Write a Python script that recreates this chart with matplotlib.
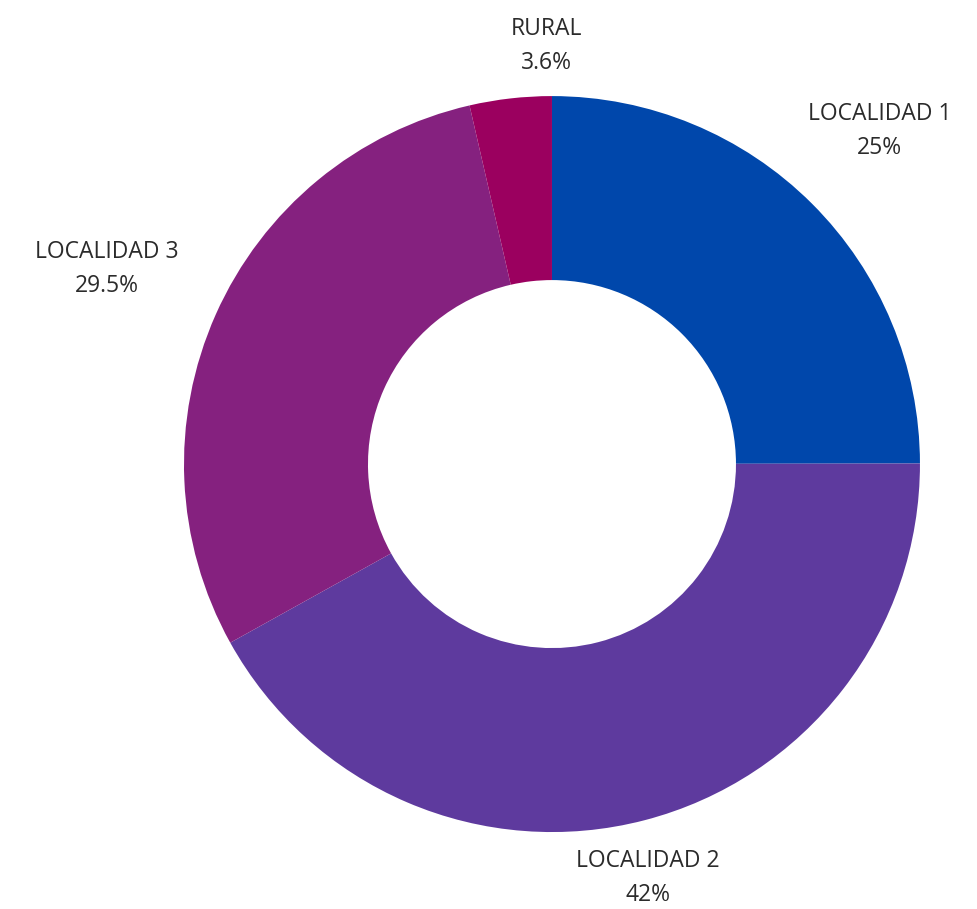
import numpy as np
import matplotlib
matplotlib.use("Agg")
import matplotlib.pyplot as plt

# data
labels = ["LOCALIDAD 1", "LOCALIDAD 2", "LOCALIDAD 3", "RURAL"]
pct_text = ["25%", "42%", "29.5%", "3.6%"]
values = [25, 42, 29.5, 3.6]
colors = ["#0047ab", "#5e3a9e", "#85217f", "#9b005f"]

# label block centres (text placement only)
label_pos = [(0.891, 0.905), (0.261, -1.125), (-1.209, 0.53), (-0.014, 1.135)]

fig = plt.figure(figsize=(9.77, 9.09), dpi=100)
ax = fig.add_axes([0, 0, 1, 1])

wedges, _ = ax.pie(values, colors=colors, startangle=90, counterclock=False,
                   radius=1.0, wedgeprops=dict(width=0.5, linewidth=0))

for lab, pct, (x, y) in zip(labels, pct_text, label_pos):
    ax.text(x, y, lab + "\n" + pct, ha="center", va="center", fontsize=16.5,
            family="Open Sans", color="#2b2b2b", linespacing=1.55)

ax.set_xlim(-1.5, 1.155)
ax.set_ylim(-1.209, 1.261)
ax.set_aspect("equal")
ax.axis("off")

fig.savefig("out.png", dpi=100)
